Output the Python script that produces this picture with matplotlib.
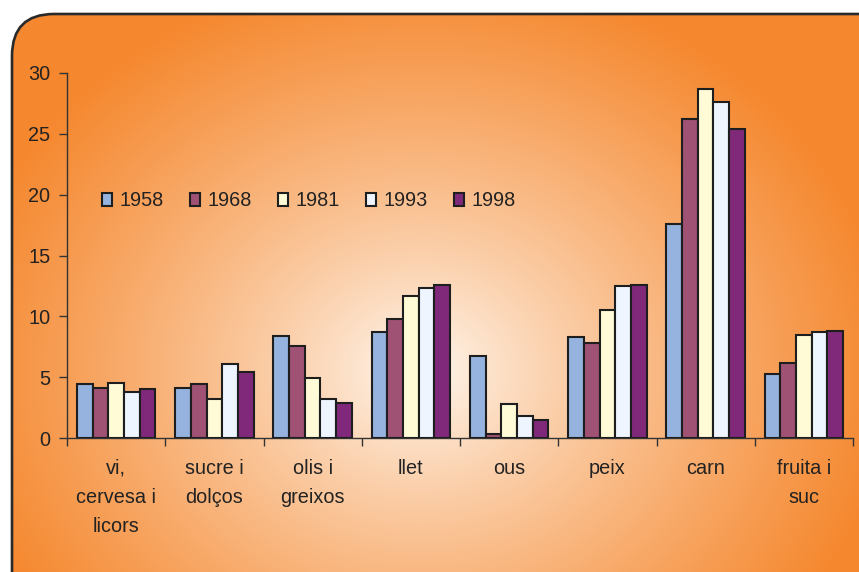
import numpy as np
import matplotlib
matplotlib.use("Agg")
import matplotlib.pyplot as plt
from matplotlib.patches import FancyBboxPatch

plt.rcParams['font.family'] = ['Liberation Sans', 'DejaVu Sans']

categories = ["vi,\ncervesa i\nlicors", "sucre i\ndolços", "olis i\ngreixos", "llet",
              "ous", "peix", "carn", "fruita i\nsuc"]
years = ["1958", "1968", "1981", "1993", "1998"]
v1958 = [4.4, 4.1, 8.4, 8.7, 6.7, 8.3, 17.6, 5.3]
v1968 = [4.1, 4.4, 7.6, 9.8, 0.3, 7.8, 26.2, 6.2]
v1981 = [4.5, 3.2, 4.9, 11.7, 2.8, 10.5, 28.7, 8.5]
v1993 = [3.8, 6.1, 3.2, 12.3, 1.8, 12.5, 27.6, 8.7]
v1998 = [4.0, 5.4, 2.9, 12.6, 1.5, 12.6, 25.4, 8.8]
series = [v1958, v1968, v1981, v1993, v1998]
colors = ["#95B3DE", "#A05274", "#FFFBD6", "#EEF5FF", "#80297A"]
yticks = [0, 5, 10, 15, 20, 25, 30]

W, H = 859, 572
FS = 14.3
fig = plt.figure(figsize=(W / 100, H / 100), dpi=100)
fig.patch.set_facecolor("white")

# background with radial gradient inside rounded frame
bg = fig.add_axes([0, 0, 1, 1])
bg.set_xlim(0, W)
bg.set_ylim(H, 0)
bg.axis("off")
yy, xx = np.mgrid[0:H, 0:W]
cx, cy, rx, ry = 420, 370, 470, 400
t = np.sqrt(((xx - cx) / rx) ** 2 + ((yy - cy) / ry) ** 2)
t = np.clip(t, 0, 1) ** 0.8
c0 = np.array([1.0, 0.985, 0.965])
c1 = np.array([0.961, 0.533, 0.184])
img = c0[None, None, :] * (1 - t[..., None]) + c1[None, None, :] * t[..., None]
im = bg.imshow(img, extent=(0, W, H, 0), zorder=0, interpolation="bilinear")
frame = FancyBboxPatch((12, 14), 950, 700, boxstyle="round,pad=0,rounding_size=42",
                       facecolor="none", edgecolor="#2a2a2a", linewidth=1.9, zorder=2)
bg.add_patch(frame)
im.set_clip_path(frame)

ax = fig.add_axes([67 / W, 1 - 438 / H, 786 / W, 365 / H])
ax.patch.set_alpha(0)
n = len(series)
bw = 0.16
x = np.arange(len(categories))
for i, (vals, col, yr) in enumerate(zip(series, colors, years)):
    ax.bar(x + (i - (n - 1) / 2) * bw, vals, width=bw, color=col,
           edgecolor="#1e1e1e", linewidth=1.5, label=yr, zorder=3)

ax.set_xlim(-0.5, len(categories) - 0.5)
ax.set_ylim(0, 30)
ax.set_yticks(yticks)
ax.tick_params(axis="y", direction="out", length=6, width=1, color="#333333",
               labelsize=FS, labelcolor="#222222", pad=6)
ax.set_xticks(np.arange(len(categories) + 1) - 0.5)
ax.set_xticklabels([])
ax.tick_params(axis="x", which="major", direction="out", length=6, width=1, color="#333333")
ax.set_xticks(x, minor=True)
ax.set_xticklabels(categories, minor=True, fontsize=FS, color="#222222", linespacing=1.68)
ax.tick_params(axis="x", which="minor", length=0, pad=15)
for s in ["top", "right"]:
    ax.spines[s].set_visible(False)
for s in ["left", "bottom"]:
    ax.spines[s].set_color("#333333")
    ax.spines[s].set_linewidth(1)

leg = ax.legend(loc="center left", bbox_to_anchor=(35 / 786, (438 - 201) / 365), ncol=5,
                frameon=False, fontsize=FS, handlelength=0.5, handleheight=0.68,
                handletextpad=0.4, columnspacing=1.3, borderpad=0, borderaxespad=0)
for txt in leg.get_texts():
    txt.set_color("#222222")

fig.savefig("out.png", dpi=100)
